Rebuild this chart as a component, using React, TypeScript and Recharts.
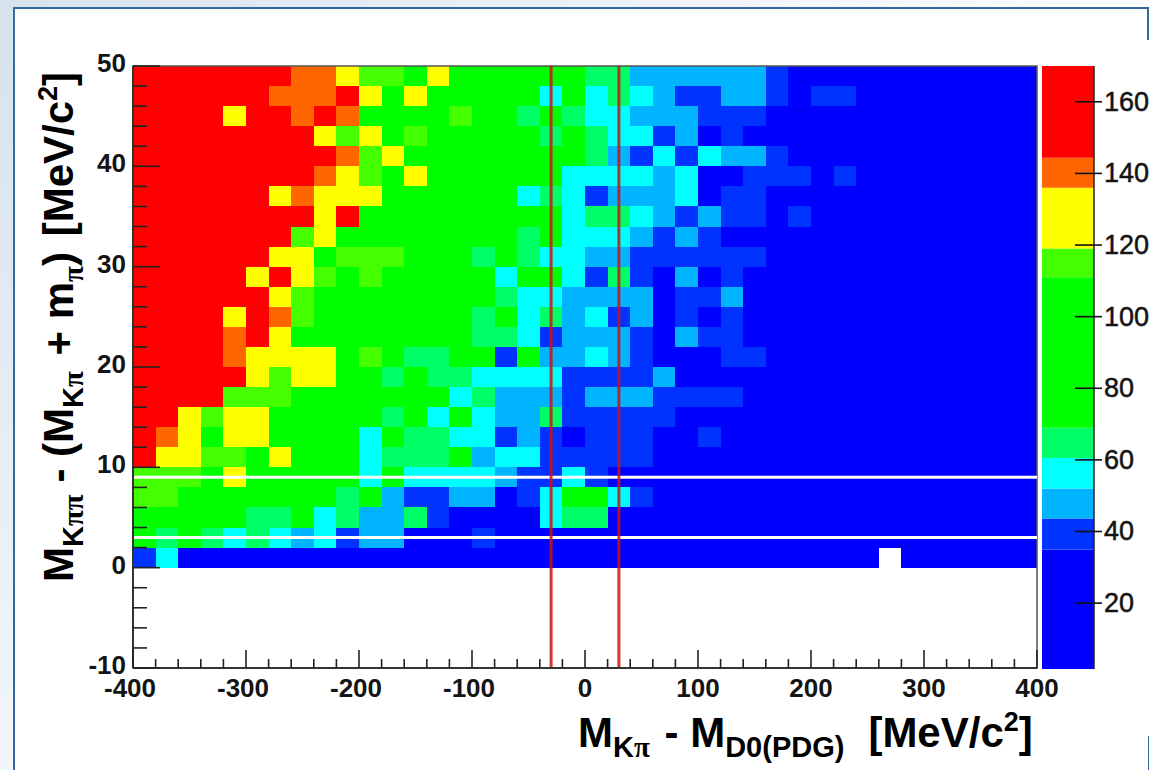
import React from "react";
import {
  ScatterChart, Scatter, XAxis, YAxis, ReferenceLine, ReferenceArea, BarChart, Bar, Label,
} from "recharts";

// representative content of each colour band
const R = 160, O = 140, Y = 128, L = 115, G = 90, S = 65, C = 56, B = 48, D = 40, A = 25, W = 0;

// bin contents, left to right (x from -400 to 400, 20 MeV bins)
const rowY49 = [R,R,R,R,R,R,R,O,O,Y, L,L,G,Y,G,G,G,G,G,G, S,S,B,B,B,B,B,B,D,A, A,A,A,A,A,A,A,A,A,A];
const rowY47 = [R,R,R,R,R,R,O,O,O,R, Y,G,Y,G,G,G,G,G,C,G, C,S,C,B,D,D,B,B,D,A, D,D,A,A,A,A,A,A,A,A];
const rowY45 = [R,R,R,R,Y,R,R,O,R,O, G,G,G,G,L,G,G,S,G,S, C,C,B,B,B,D,D,D,A,A, A,A,A,A,A,A,A,A,A,A];
const rowY43 = [R,R,R,R,R,R,R,R,Y,L, Y,G,L,G,G,G,G,G,S,G, S,C,C,D,B,A,D,A,A,A, A,A,A,A,A,A,A,A,A,A];
const rowY41 = [R,R,R,R,R,R,R,R,R,O, L,Y,G,G,G,G,G,G,G,G, S,B,D,C,D,C,B,B,D,A, A,A,A,A,A,A,A,A,A,A];
const rowY39 = [R,R,R,R,R,R,R,R,O,Y, L,G,Y,G,G,G,G,G,G,C, C,C,C,B,C,A,A,D,D,D, A,D,A,A,A,A,A,A,A,A];
const rowY37 = [R,R,R,R,R,R,Y,O,Y,Y, Y,G,G,G,G,G,G,C,S,C, D,B,B,B,C,A,D,D,A,A, A,A,A,A,A,A,A,A,A,A];
const rowY35 = [R,R,R,R,R,R,R,R,Y,R, G,G,G,G,G,G,G,G,G,C, S,S,C,B,D,B,D,D,A,D, A,A,A,A,A,A,A,A,A,A];
const rowY33 = [R,R,R,R,R,R,R,L,Y,G, G,G,G,G,G,G,G,S,G,C, C,C,B,D,B,D,A,A,A,A, A,A,A,A,A,A,A,A,A,A];
const rowY31 = [R,R,R,R,R,R,Y,Y,G,L, L,L,G,G,G,S,G,S,C,C, B,B,D,D,D,D,D,D,A,A, A,A,A,A,A,A,A,A,A,A];
const rowY29 = [R,R,R,R,R,Y,R,Y,L,G, L,G,G,G,G,G,C,G,G,C, D,S,D,A,B,A,D,A,A,A, A,A,A,A,A,A,A,A,A,A];
const rowY27 = [R,R,R,R,R,R,Y,L,G,G, G,G,G,G,G,G,S,C,C,B, B,B,B,A,D,D,B,A,A,A, A,A,A,A,A,A,A,A,A,A];
const rowY25 = [R,R,R,R,Y,R,O,L,G,G, G,G,G,G,G,S,G,C,S,B, C,D,B,A,D,A,D,A,A,A, A,A,A,A,A,A,A,A,A,A];
const rowY23 = [R,R,R,R,O,R,Y,G,G,G, G,G,G,G,G,S,S,C,D,B, B,B,D,A,B,D,D,A,A,A, A,A,A,A,A,A,A,A,A,A];
const rowY21 = [R,R,R,R,O,Y,Y,Y,Y,G, L,G,S,S,G,G,D,G,B,B, C,B,D,A,A,A,D,D,A,A, A,A,A,A,A,A,A,A,A,A];
const rowY19 = [R,R,R,R,R,Y,L,Y,Y,G, G,S,G,S,S,C,C,C,C,D, D,D,D,B,A,A,A,A,A,A, A,A,A,A,A,A,A,A,A,A];
const rowY17 = [R,R,R,R,L,L,L,G,G,G, G,G,G,G,C,S,B,B,B,D, B,B,B,D,D,D,D,A,A,A, A,A,A,A,A,A,A,A,A,A];
const rowY15 = [R,R,Y,L,Y,Y,G,G,G,G, G,S,G,C,G,C,B,B,S,D, D,D,D,D,A,A,A,A,A,A, A,A,A,A,A,A,A,A,A,A];
const rowY13 = [R,O,Y,G,Y,Y,G,G,G,G, C,G,S,S,C,C,D,B,D,A, D,D,D,A,A,D,A,A,A,A, A,A,A,A,A,A,A,A,A,A];
const rowY11 = [R,Y,Y,L,L,G,Y,G,G,G, C,S,S,S,G,B,C,C,D,D, D,D,D,A,A,A,A,A,A,A, A,A,A,A,A,A,A,A,A,A];
const rowY9 = [L,L,L,G,Y,G,G,G,G,G, C,G,C,C,C,C,B,D,D,C, D,A,A,A,A,A,A,A,A,A, A,A,A,A,A,A,A,A,A,A];
const rowY7 = [L,L,G,G,G,G,G,G,G,S, G,B,D,D,B,B,A,D,C,G, G,C,D,A,A,A,A,A,A,A, A,A,A,A,A,A,A,A,A,A];
const rowY5 = [G,G,G,G,G,S,S,G,C,S, B,B,S,D,A,A,A,A,C,S, S,A,A,A,A,A,A,A,A,A, A,A,A,A,A,A,A,A,A,A];
const rowY3 = [G,S,G,S,C,S,C,B,C,D, B,B,A,A,A,D,A,A,A,A, A,A,A,A,A,A,A,A,A,A, A,A,A,A,A,A,A,A,A,A];
const rowY1 = [D,C,A,A,A,A,A,A,A,A, A,A,A,A,A,A,A,A,A,A, A,A,A,A,A,A,A,A,A,A, A,A,A,W,A,A,A,A,A,A];

const rows: [number, number[]][] = [
  [49, rowY49], [47, rowY47], [45, rowY45], [43, rowY43], [41, rowY41],
  [39, rowY39], [37, rowY37], [35, rowY35], [33, rowY33], [31, rowY31],
  [29, rowY29], [27, rowY27], [25, rowY25], [23, rowY23], [21, rowY21],
  [19, rowY19], [17, rowY17], [15, rowY15], [13, rowY13], [11, rowY11],
  [9, rowY9], [7, rowY7], [5, rowY5], [3, rowY3], [1, rowY1],
];

// colour bands of the palette
const bandEdges = [35, 43.6, 52, 60.5, 69, 111, 119, 136, 144.4, 170];
const bandColors = ["#0000ff", "#0033ff", "#00b4ff", "#00ffff", "#00ff66", "#00ff00", "#44ff00", "#ffff00", "#ff6600", "#ff0000"];
const barTicks = [20, 40, 60, 80, 100, 120, 140, 160];
const xTicks = [-400,-380,-360,-340,-320,-300,-280,-260,-240,-220,-200,-180,-160,-140,-120,-100,-80,-60,-40,-20,0,20,40,60,80,100,120,140,160,180,200,220,240,260,280,300,320,340,360,380,400];
const yTicks = [50,48,46,44,42,40,38,36,34,32,30,28,26,24,22,20,18,16,14,12,10,8,6,4,2,0,-2,-4,-6,-8,-10];
const verticalCuts = [-30, 30];
const horizontalCuts = [9, 3];
const frameCorners = [{ x: -400, y: -10 }, { x: 400, y: 50 }];

const colourOf = (v: number) => {
  if (v <= 0) return "#ffffff";
  const i = bandEdges.findIndex((e) => v <= e);
  return bandColors[i < 0 ? bandColors.length - 1 : i];
};

const cells = rows.flatMap(([y, vals]) => vals.map((v, i) => ({ x: -390 + 20 * i, y, v })));

const barDatum: Record<string, number | string> = { name: "z" };
bandEdges.forEach((e, i) => { barDatum["b" + i] = e - (i ? bandEdges[i - 1] : 0); });

const PLOT_W = 904, PLOT_H = 602;
const CW = (PLOT_W / 800) * 20, CH = (PLOT_H / 60) * 2;
const SANS = "'Liberation Sans', Arial, sans-serif";
const INK = "#141414";

const CellShape = (p: any) => {
  const cx = p.cx ?? p.x + (p.width ?? 0) / 2;
  const cy = p.cy ?? p.y + (p.height ?? 0) / 2;
  return <rect x={cx - CW / 2} y={cy - CH / 2} width={CW} height={CH} fill={colourOf(p.v ?? p.payload?.v)} stroke="none" shapeRendering="crispEdges" />;
};

const NoShape = () => <g />;

const XTick = (p: any) => {
  const v = p.payload.value;
  const major = v % 100 === 0;
  return (
    <g>
      <line x1={p.x} x2={p.x} y1={668} y2={major ? 650 : 659} stroke="#222" strokeWidth={1.6} />
      {major && <text x={v < 0 ? p.x - 3 : p.x} y={697} textAnchor="middle" fontFamily={SANS} fontWeight={700} fontSize={26} fill={INK}>{v}</text>}
    </g>
  );
};

const YTick = (p: any) => {
  const v = p.payload.value;
  const major = v % 10 === 0;
  return (
    <g>
      <line x1={133} x2={major ? 160 : 147} y1={p.y} y2={p.y} stroke="#222" strokeWidth={1.6} />
      {major && <text x={126} y={p.y + 6} textAnchor="end" fontFamily={SANS} fontWeight={700} fontSize={26} fill={INK}>{v}</text>}
    </g>
  );
};

const BarTick = (p: any) => (
  <g>
    <line x1={p.x - 27} x2={p.x} y1={p.y} y2={p.y} stroke="#111" strokeWidth={1.6} />
    <text x={p.x + 2} y={p.y + 9} fontFamily={SANS} fontSize={27} stroke={INK} strokeWidth={0.5} fill={INK}>{p.payload.value}</text>
  </g>
);

const pi = (t: string) => <tspan fontFamily="'Liberation Serif', serif">{t}</tspan>;

const XTitle = () => (
  <text x={578} y={747} fontFamily={SANS} fontWeight={700} fontSize={42} fill="#000">
    M<tspan fontSize={29} dy={10}>K{pi("π")}</tspan>
    <tspan dy={-10} dx={3}> - M</tspan>
    <tspan fontSize={29} dy={10}>D0(PDG)</tspan>
    <tspan dy={-10} dx={24}>[MeV/c</tspan>
    <tspan fontSize={27} dy={-16}>2</tspan>
    <tspan dy={16}>]</tspan>
  </text>
);

const YTitle = () => (
  <text transform="translate(73,582) rotate(-90)" x={0} y={0} fontFamily={SANS} fontWeight={700} fontSize={42} fill="#000">
    M<tspan fontSize={29} dy={10}>K{pi("ππ")}</tspan>
    <tspan dy={-10}> - (M</tspan>
    <tspan fontSize={29} dy={10}>K{pi("π")}</tspan>
    <tspan dy={-10} dx={4}> + m</tspan>
    <tspan fontSize={29} dy={10}>{pi("π")}</tspan>
    <tspan dy={-10}>)</tspan>
    <tspan dx={4}> [MeV/c</tspan>
    <tspan fontSize={27} dy={-16}>2</tspan>
    <tspan dy={16}>]</tspan>
  </text>
);

export default function App() {
  return (
    <div style={{ position: "absolute", left: 0, top: 0, width: 1158, height: 770, overflow: "hidden", background: "#fff" }}>
      <div style={{ position: "absolute", left: 0, top: 0, width: 13, height: 770, background: "linear-gradient(180deg,#d6e2ec,#f2f6f9)" }} />
      <div style={{ position: "absolute", left: 0, top: 0, width: 1158, height: 7, background: "linear-gradient(90deg,#d8e3ed,#ffffff)" }} />
      <div style={{ position: "absolute", left: 13, top: 7, width: 2, height: 763, background: "#34689f" }} />
      <div style={{ position: "absolute", left: 13, top: 7, width: 1136, height: 2, background: "#34689f" }} />
      <div style={{ position: "absolute", left: 1147, top: 7, width: 2, height: 33, background: "#34689f" }} />
      <div style={{ position: "absolute", left: 1148, top: 736, width: 1, height: 34, background: "#34689f" }} />

      <div style={{ position: "absolute", left: 0, top: 0 }}>
        <ScatterChart width={1158} height={770} margin={{ left: 133, right: 121, top: 66, bottom: 102 }}>
          <XAxis type="number" dataKey="x" domain={[-400, 400]} hide />
          <YAxis type="number" dataKey="y" domain={[-10, 50]} hide />
          <Scatter data={cells} dataKey="y" shape={CellShape} isAnimationActive={false} />
        </ScatterChart>
      </div>

      <div style={{ position: "absolute", left: 0, top: 0 }}>
        <ScatterChart width={1158} height={770} margin={{ left: 0, right: 121, top: 66, bottom: 0 }}>
          <Scatter data={frameCorners} dataKey="y" shape={NoShape} isAnimationActive={false} />
          <ReferenceArea x1={-400} x2={400} y1={-10} y2={50} fill="none" stroke="#555" strokeWidth={1.5} />
          {horizontalCuts.map((c) => (
            <ReferenceLine key={c} y={c} stroke="#ffffff" strokeWidth={3} />
          ))}
          {verticalCuts.map((c) => (
            <ReferenceLine key={c} x={c} stroke="#d01010" strokeOpacity={0.85} strokeWidth={3} />
          ))}
          <XAxis type="number" dataKey="x" domain={[-400, 400]} ticks={xTicks} interval={0} height={102} tick={XTick} tickLine={false} axisLine={{ stroke: "#333", strokeWidth: 2 }} label={<Label content={XTitle} />} />
          <YAxis type="number" dataKey="y" domain={[-10, 50]} ticks={yTicks} interval={0} width={133} tick={YTick} tickLine={false} axisLine={{ stroke: "#333", strokeWidth: 2 }} label={<Label content={YTitle} />} />
        </ScatterChart>
      </div>

      <div style={{ position: "absolute", left: 1042, top: 0 }}>
        <BarChart width={116} height={770} data={[barDatum]} margin={{ left: 0, right: 0, top: 66, bottom: 101 }} barCategoryGap={0}>
          {bandColors.map((c, i) => (
            <Bar key={c} dataKey={"b" + i} stackId="z" fill={c} isAnimationActive={false} />
          ))}
          <XAxis dataKey="name" hide />
          <YAxis orientation="right" type="number" domain={[1.6, 170]} allowDataOverflow ticks={barTicks} interval={0} width={64} tick={BarTick} tickLine={false} axisLine={{ stroke: "#222", strokeWidth: 1.5 }} />
        </BarChart>
      </div>
    </div>
  );
}
